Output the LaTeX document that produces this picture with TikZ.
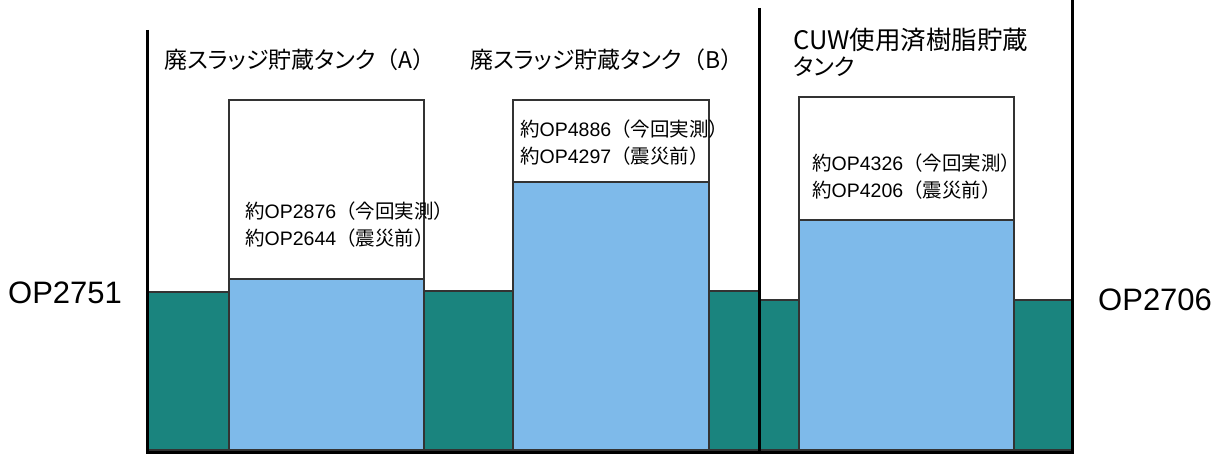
\documentclass[tikz,border=0pt]{standalone}
\usepackage{fontspec}
\setmainfont{Liberation Sans}
\newfontfamily\jp[RawFeature=+palt]{Noto Sans CJK JP}
\newfontfamily\jpf{Noto Sans CJK JP}
\definecolor{pool}{RGB}{26,132,126}
\definecolor{water}{RGB}{126,186,234}
\begin{document}
\begin{tikzpicture}[x=1pt,y=-1pt,
  wall/.style={line width=3pt,black},
  poolbox/.style={fill=pool,draw=black!80,line width=1.2pt},
  tankbox/.style={fill=white,draw=black!80,line width=1.2pt},
  waterbox/.style={fill=water,draw=black!80,line width=1.2pt},
  title/.style={font=\fontsize{23}{26}\selectfont\jp,inner sep=0pt},
  lvl/.style={font=\fontsize{19.5}{27}\selectfont,inner sep=0pt,anchor=west,align=left},
  op/.style={font=\fontsize{31}{36}\selectfont,inner sep=0pt}]
\useasboundingbox (0,0) rectangle (1228,454);
% pools between tanks
\draw[poolbox] (147,292) rectangle (229,450);
\draw[poolbox] (424,291) rectangle (513,450);
\draw[poolbox] (709,291) rectangle (759,450);
\draw[poolbox] (759,300) rectangle (799,450);
\draw[poolbox] (1014,300) rectangle (1072,450);
% tanks
\draw[tankbox] (229,100) rectangle (424,450);
\draw[waterbox] (229,279) rectangle (424,450);
\draw[tankbox] (513,100) rectangle (709,450);
\draw[waterbox] (513,182) rectangle (709,450);
\draw[tankbox] (799,97) rectangle (1014,450);
\draw[waterbox] (799,220) rectangle (1014,450);
% walls
\coordinate (wl1) at (147,30);
\coordinate (wl2) at (147,452);
\coordinate (wm1) at (759,8);
\coordinate (wm2) at (759,451);
\coordinate (wr1) at (1072,0);
\coordinate (wr2) at (1072,452);
\draw[wall] (wl1) -- (wl2) -- (wr2) -- (wr1);
\draw[wall] (wm1) -- (wm2);
% titles
\node[title] (ta) at (300,60) {廃スラッジ貯蔵タンク{\jpf （}A{\jpf ）}};
\node[title] (tb) at (607,60) {廃スラッジ貯蔵タンク{\jpf （}B{\jpf ）}};
\node[title,anchor=west,align=left] (tc) at (793,52) {\fontsize{25.5}{38}\selectfont CUW使用済樹脂貯蔵\\タンク};
% levels
\node[lvl] (la) at (245,225) {{\jpf 約}OP2876{\jpf （今回実測）}\\{\jpf 約}OP2644{\jpf （震災前）}};
\node[lvl] (lb) at (520,143) {{\jpf 約}OP4886{\jpf （今回実測）}\\{\jpf 約}OP4297{\jpf （震災前）}};
\node[lvl] (lc) at (812,177) {{\jpf 約}OP4326{\jpf （今回実測）}\\{\jpf 約}OP4206{\jpf （震災前）}};
% outer levels
\node[op,anchor=west] (opl) at (8,293) {OP2751};
\node[op,anchor=west] (opr) at (1098,300) {OP2706};
\end{tikzpicture}
\end{document}
